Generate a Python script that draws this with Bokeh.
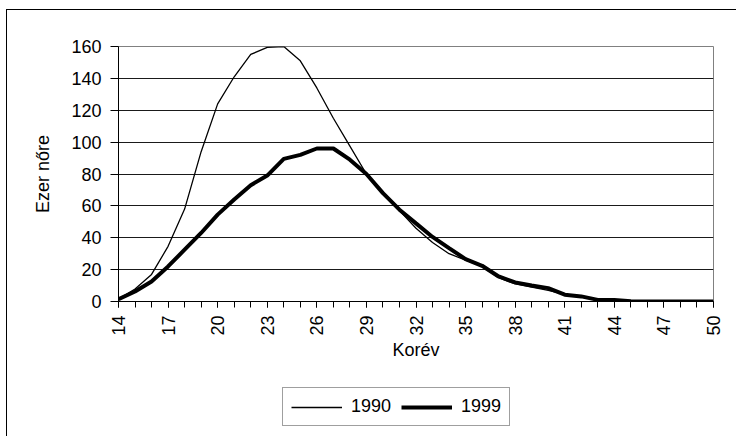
import math
from bokeh.plotting import figure
from bokeh.layouts import column
from bokeh.models import FixedTicker, Legend, LegendItem
from bokeh.embed import file_html
from bokeh.resources import INLINE

ages = list(range(14, 51))
y1990 = [1.5, 7.8, 17, 34.6, 58, 94, 124, 141, 155, 159.5, 160, 151, 134, 115,
         97.5, 80, 68, 57, 46, 37, 30, 26, 22, 15, 11, 9, 7, 4.5, 3, 1.5, 0.5,
         0.2, 0, 0, 0, 0, 0]
y1999 = [1.5, 6.3, 12.6, 22, 32.5, 43, 54.5, 64, 73, 79, 89.5, 92, 96, 96, 89,
         80, 68, 57.6, 49, 40.5, 33.5, 26.6, 22.4, 15.7, 12, 10, 8.4, 4.3, 3.2,
         1, 1, 0.2, 0, 0, 0, 0, 0]
x_ticks = list(range(14, 51, 3))
y_ticks = list(range(0, 161, 20))
series_names = ["1990", "1999"]

FONT = "Liberation Sans"

p = figure(width=729, height=354, output_backend="svg", toolbar_location=None,
           x_range=(14, 50), y_range=(0, 160),
           min_border_left=111, min_border_right=23, min_border_top=36,
           min_border_bottom=63,
           background_fill_color="white", border_fill_color="white")

p.outline_line_color = "#808080"
p.outline_line_width = 1

p.xgrid.grid_line_color = None
p.ygrid.ticker = FixedTicker(ticks=y_ticks)
p.ygrid.grid_line_color = "#1a1a1a"
p.ygrid.grid_line_width = 1

xa = p.xaxis[0]
xa.ticker = FixedTicker(ticks=x_ticks, minor_ticks=ages)
xa.major_label_orientation = math.pi / 2
xa.major_tick_out = 6
xa.major_tick_in = 0
xa.minor_tick_out = 6
xa.minor_tick_in = 0
xa.minor_tick_line_color = "black"
xa.major_tick_line_color = "black"
xa.axis_line_color = "black"
xa.major_label_text_font = FONT
xa.major_label_text_font_size = "18px"
xa.major_label_text_color = "black"
xa.major_label_standoff = 8
xa.axis_label = "Korév"
xa.axis_label_text_font = FONT
xa.axis_label_text_font_size = "18px"
xa.axis_label_text_font_style = "normal"
xa.axis_label_text_color = "black"
xa.axis_label_standoff = 1

ya = p.yaxis[0]
ya.ticker = FixedTicker(ticks=y_ticks, minor_ticks=[])
ya.major_tick_out = 8
ya.major_tick_in = 0
ya.major_tick_line_color = "black"
ya.axis_line_color = "black"
ya.major_label_text_font = FONT
ya.major_label_text_font_size = "18px"
ya.major_label_text_color = "black"
ya.major_label_standoff = 9
ya.axis_label = "Ezer nőre"
ya.axis_label_text_font = FONT
ya.axis_label_text_font_size = "18px"
ya.axis_label_text_font_style = "normal"
ya.axis_label_text_color = "black"
ya.axis_label_standoff = 15

p.line(ages, y1990, line_color="black", line_width=1.3)
p.line(ages, y1999, line_color="black", line_width=4)

# legend strip below the chart (its frame is aligned with the main frame;
# the series drawn here fall outside its range and only feed the legend)
p2 = figure(width=729, height=72, output_backend="svg", toolbar_location=None,
            x_range=(0, 1), y_range=(0, 1), x_axis_type=None, y_axis_type=None,
            min_border_left=111, min_border_right=23,
            min_border_top=0, min_border_bottom=0,
            background_fill_color="white", border_fill_color="white")
p2.outline_line_color = None
p2.grid.grid_line_color = None
d1 = p2.line(ages, y1990, line_color="black", line_width=1.3)
d2 = p2.line(ages, y1999, line_color="black", line_width=4)

legend = Legend(items=[LegendItem(label=series_names[0], renderers=[d1]),
                       LegendItem(label=series_names[1], renderers=[d2])],
                location=(164, 10), orientation="horizontal",
                label_text_font=FONT, label_text_font_size="18px",
                label_text_color="black",
                glyph_width=51, glyph_height=20, label_standoff=9,
                spacing=10, padding=8, margin=0,
                border_line_color="#404040", border_line_width=1,
                background_fill_color="white", background_fill_alpha=1)
p2.add_layout(legend, "center")

layout = column(p, p2, spacing=0, margin=(9, 0, 0, 6),
                styles={"border-top": "1px solid black",
                        "border-left": "1px solid black"})

open("out.html", "w").write(file_html(layout, INLINE))
